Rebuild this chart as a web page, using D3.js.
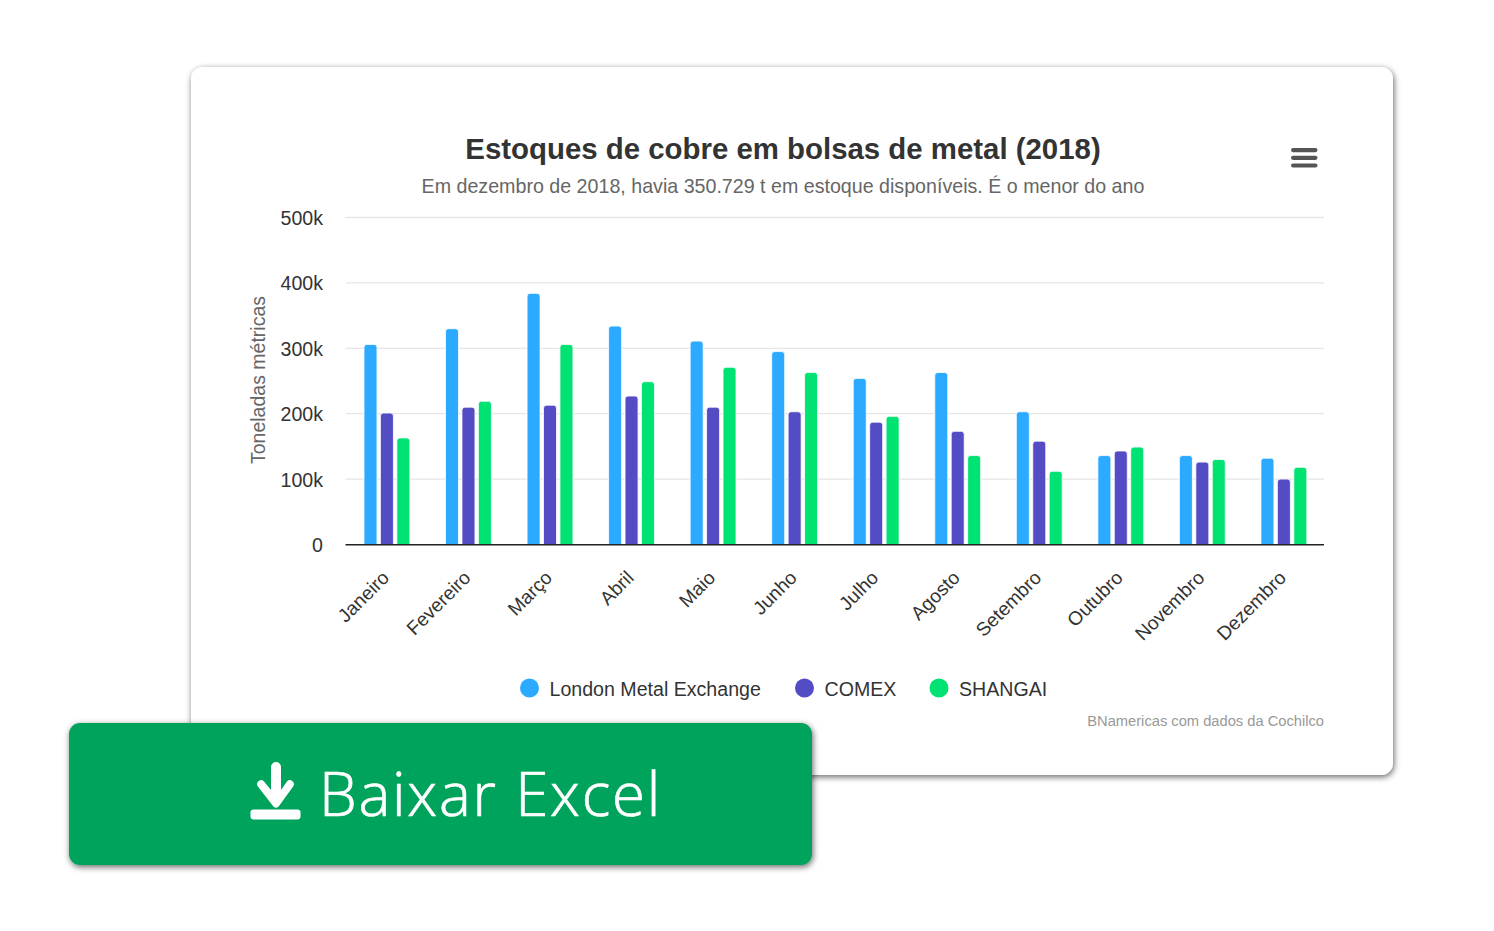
<!DOCTYPE html>
<html><head><meta charset="utf-8">
<script src="https://cdn.jsdelivr.net/npm/d3@7"></script>
<style>html,body{margin:0;padding:0;background:#fff;overflow:hidden}svg{display:block}</style>
</head><body><svg id="c" width="1494" height="931"></svg>
<script>
const months = ["Janeiro","Fevereiro","Março","Abril","Maio","Junho","Julho","Agosto","Setembro","Outubro","Novembro","Dezembro"];
const seriesNames = ["London Metal Exchange","COMEX","SHANGAI"];
const seriesColors = ["#2BAAFF","#544CC5","#00E272"];
const lme = [306,330,384,334,311,295,254,263,203,136,136,132];
const comex = [201,210,213,227,210,203,187,173,158,143,126,100];
const shangai = [163,219,306,249,271,263,196,136,112,149,130,118];
const yTicks = [0,100,200,300,400,500];
const titleText = "Estoques de cobre em bolsas de metal (2018)";
const subtitleText = "Em dezembro de 2018, havia 350.729 t em estoque disponíveis. É o menor do ano";
const yTitle = "Toneladas métricas";
const creditText = "BNamericas com dados da Cochilco";
const buttonText = "Baixar Excel";

const svg = d3.select("#c");
const font = "'Liberation Sans', Arial, sans-serif";
const defs = svg.append("defs");
const f1 = defs.append("filter").attr("id","sh").attr("x","-5%").attr("y","-5%").attr("width","110%").attr("height","115%");
f1.append("feDropShadow").attr("dx",1).attr("dy",2).attr("stdDeviation",3).attr("flood-color","#000").attr("flood-opacity",0.6);

// card
svg.append("rect").attr("x",191).attr("y",67).attr("width",1202).attr("height",708).attr("rx",12)
  .attr("fill","#fff").attr("filter","url(#sh)");

const x0 = d3.scaleBand().domain(months).range([345.5,1324]);
const x1 = d3.scaleBand().domain(seriesNames).range([-24,25.3]).paddingInner(0).paddingOuter(0);
const y = d3.scaleLinear().domain([0,500]).range([544.5,217.5]);

// grid
svg.append("g").selectAll("line").data(yTicks.slice(1)).join("line")
  .attr("x1",345.5).attr("x2",1324).attr("y1",d=>y(d)).attr("y2",d=>y(d))
  .attr("stroke","#e6e6e6").attr("stroke-width",1.3);

// y axis
const yAxis = d3.axisLeft(y).tickValues(yTicks).tickSize(0).tickPadding(0)
  .tickFormat(d=>d===0?"0":d+"k");
const gy = svg.append("g").attr("transform","translate(323,0)").call(yAxis);
gy.select(".domain").remove();
gy.selectAll("text").attr("font-family",font).attr("font-size",19.6).attr("fill","#333").attr("dy","0.36em");

svg.append("text").attr("transform","translate(265,380) rotate(-90)").attr("text-anchor","middle")
  .attr("font-family",font).attr("font-size",19.5).attr("fill","#666").text(yTitle);

// bars
const barPath = (cx,top,base,w,r)=>{
  const l=cx-w/2, rr=cx+w/2;
  const p=d3.path();
  p.moveTo(l,base); p.lineTo(l,top+r);
  p.quadraticCurveTo(l,top,l+r,top);
  p.lineTo(rr-r,top);
  p.quadraticCurveTo(rr,top,rr,top+r);
  p.lineTo(rr,base); p.closePath();
  return p.toString();
};
[lme,comex,shangai].forEach((vals,si)=>{
  svg.append("g").selectAll("path").data(vals).join("path")
    .attr("d",(v,i)=>barPath(x0(months[i])+x0.bandwidth()/2+x1(seriesNames[si])+x1.bandwidth()/2,y(v),y(0),13,3))
    .attr("fill",seriesColors[si]).attr("stroke","#fff").attr("stroke-width",0.8);
});

// x axis line
svg.append("line").attr("x1",345.5).attr("x2",1324).attr("y1",544.7).attr("y2",544.7).attr("stroke","#222").attr("stroke-width",1.4);

// x labels
svg.append("g").selectAll("text").data(months).join("text")
  .attr("transform",d=>`translate(${x0(d)+x0.bandwidth()/2+4},${579}) rotate(-45)`)
  .attr("text-anchor","end").attr("font-family",font).attr("font-size",19.2).attr("fill","#333").text(d=>d);

// title
svg.append("text").attr("x",783).attr("y",159).attr("text-anchor","middle").attr("font-family",font)
  .attr("font-size",29.4).attr("font-weight","bold").attr("fill","#333").text(titleText);
svg.append("text").attr("x",783).attr("y",192.6).attr("text-anchor","middle").attr("font-family",font)
  .attr("font-size",19.65).attr("fill","#666").text(subtitleText);

// menu icon
svg.append("g").selectAll("rect").data([0,1,2]).join("rect")
  .attr("x",1291).attr("y",d=>148+d*7.7).attr("width",26.5).attr("height",4.2).attr("rx",2.1).attr("fill","#555");

// legend
const legendX = [529.5,804.5,939];
const lg = svg.append("g").selectAll("g").data(seriesNames).join("g")
  .attr("transform",(d,i)=>`translate(${legendX[i]},688)`);
lg.append("circle").attr("r",9.5).attr("fill",(d,i)=>seriesColors[i]);
lg.append("text").attr("x",20).attr("y",7.6).attr("font-family",font).attr("font-size",19.6).attr("fill","#333").text(d=>d);

// credit
svg.append("text").attr("x",1324).attr("y",726).attr("text-anchor","end").attr("font-family",font)
  .attr("font-size",14.7).attr("fill","#999").text(creditText);

// button
svg.append("rect").attr("x",69).attr("y",723).attr("width",743).attr("height",142).attr("rx",11)
  .attr("fill","#00A35C").attr("filter","url(#sh)");
svg.append("text").attr("x",319).attr("y",815.5).attr("font-family","'Open Sans', Lato, sans-serif")
  .attr("font-size",60).attr("font-weight",300).attr("letter-spacing",1.8).attr("stroke","#fff").attr("stroke-width",0.7)
  .attr("fill","#fff").text(buttonText);
const ic = svg.append("g").attr("fill","#fff");
ic.append("rect").attr("x",250.5).attr("y",809.5).attr("width",50).attr("height",10).attr("rx",3);
ic.append("path").attr("d","M271 767 a5 5 0 0 1 10 0 V790 L287 781.5 a4 4 0 0 1 6.5 4.5 L279 806 a3.5 3.5 0 0 1 -6 0 L257.5 786 a4 4 0 0 1 6.5 -4.5 L271 790 Z");
</script></body></html>
